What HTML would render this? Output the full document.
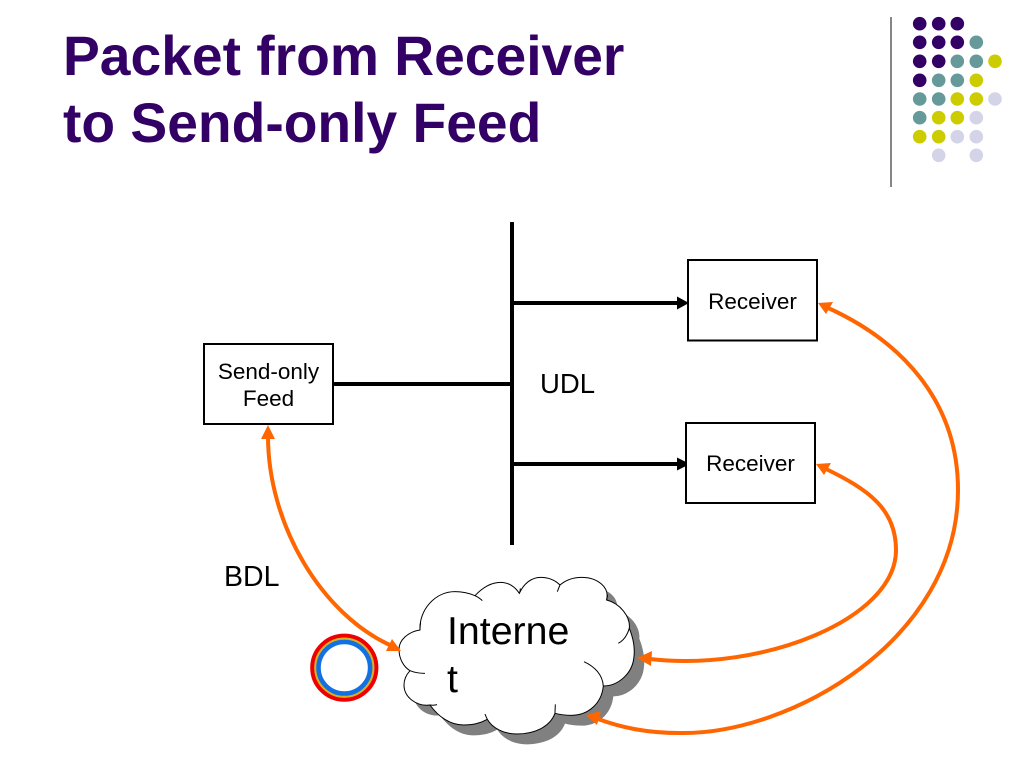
<!DOCTYPE html>
<html><head><meta charset="utf-8"><style>
html,body{margin:0;padding:0;background:#fff;width:1024px;height:768px;overflow:hidden}
svg{display:block}
text{font-family:"Liberation Sans",Arial,sans-serif}
</style></head><body>
<svg width="1024" height="768" viewBox="0 0 1024 768" xmlns="http://www.w3.org/2000/svg">
<defs>
<path id="c" d="M90,332 C70,320 57,295 57,268 C57,240 85,215 120,210 C117,150 165,95 225,95 C248,95 268,100 285,107 C310,80 335,67 362,67 C385,67 405,80 418,100 C432,70 455,52 482,52 C505,52 525,60 540,75 C560,58 580,52 605,52 C650,52 690,80 680,120 C720,130 752,170 748,205 C760,235 765,265 762,290 C758,340 715,378 670,378 C665,430 625,466 575,466 C558,466 540,464 525,460 C510,500 465,522 410,522 C372,522 338,505 322,478 C300,490 280,495 250,495 C210,495 175,470 150,435 C110,440 72,412 72,375 C72,358 78,345 90,332 Z"/>
</defs>
<text x="63" y="75" font-size="55.2" font-weight="bold" fill="#330066">Packet from Receiver</text>
<text x="63" y="142" font-size="55.2" font-weight="bold" fill="#330066">to Send-only Feed</text>
<line x1="891" y1="17" x2="891" y2="187" stroke="#444" stroke-width="1.3"/>
<g fill="#330066">
<circle cx="919.7" cy="23.7" r="6.8"/><circle cx="938.7" cy="23.7" r="6.8"/><circle cx="957.3" cy="23.7" r="6.8"/>
<circle cx="919.7" cy="42.3" r="6.8"/><circle cx="938.7" cy="42.3" r="6.8"/><circle cx="957.3" cy="42.3" r="6.8"/>
<circle cx="919.7" cy="61.3" r="6.8"/><circle cx="938.7" cy="61.3" r="6.8"/>
<circle cx="919.7" cy="80.3" r="6.8"/>
</g>
<g fill="#669999">
<circle cx="976.3" cy="42.3" r="6.8"/>
<circle cx="957.3" cy="61.3" r="6.8"/><circle cx="976.3" cy="61.3" r="6.8"/>
<circle cx="938.7" cy="80.3" r="6.8"/><circle cx="957.3" cy="80.3" r="6.8"/>
<circle cx="919.7" cy="99" r="6.8"/><circle cx="938.7" cy="99" r="6.8"/>
<circle cx="919.7" cy="117.7" r="6.8"/>
</g>
<g fill="#cccc00">
<circle cx="995" cy="61.3" r="6.8"/>
<circle cx="976.3" cy="80.3" r="6.8"/>
<circle cx="957.3" cy="99" r="6.8"/><circle cx="976.3" cy="99" r="6.8"/>
<circle cx="938.7" cy="117.7" r="6.8"/><circle cx="957.3" cy="117.7" r="6.8"/>
<circle cx="919.7" cy="136.7" r="6.8"/><circle cx="938.7" cy="136.7" r="6.8"/>
</g>
<g fill="#d4d4e8">
<circle cx="995" cy="99" r="6.8"/>
<circle cx="976.3" cy="117.7" r="6.8"/>
<circle cx="957.3" cy="136.7" r="6.8"/><circle cx="976.3" cy="136.7" r="6.8"/>
<circle cx="938.7" cy="155.3" r="6.8"/><circle cx="976.3" cy="155.3" r="6.8"/>
</g>
<line x1="512" y1="222" x2="512" y2="545" stroke="#000" stroke-width="4"/>
<line x1="333" y1="384" x2="512" y2="384" stroke="#000" stroke-width="4"/>
<line x1="512" y1="303" x2="680" y2="303" stroke="#000" stroke-width="4"/>
<polygon points="677,296.500 689,303 677,309.500" fill="#000"/>
<line x1="512" y1="464" x2="680" y2="464" stroke="#000" stroke-width="4"/>
<polygon points="677,457.500 690,464 677,470.500" fill="#000"/>
<g fill="#fff" stroke="#000" stroke-width="2">
<rect x="688" y="260" width="129" height="80.500"/>
<rect x="686" y="423" width="129" height="80"/>
<rect x="204" y="344" width="129" height="80"/>
</g>
<g font-size="22.500" text-anchor="middle" fill="#000">
<text x="752.500" y="309">Receiver</text>
<text x="750.500" y="471">Receiver</text>
<text x="268.500" y="379">Send-only</text>
<text x="268.500" y="406">Feed</text>
</g>
<text x="540" y="393" font-size="27.500" fill="#000">UDL</text>
<text x="224" y="586" font-size="28.500" fill="#000">BDL</text>
<g transform="translate(380,560) scale(0.3333)">
<use href="#c" transform="translate(30,31)" fill="#808080"/>
<use href="#c" fill="#fff" stroke="#000" stroke-width="3"/>
<g fill="none" stroke="#000" stroke-width="3">
<path d="M120,210 C120,203 120,197 122,188"/>
<path d="M285,107 C292,110 300,115 307,122"/>
<path d="M418,100 C420,95 421,90 421,85"/>
<path d="M540,75 C537,82 535,88 532,95"/>
<path d="M680,120 C680,115 682,110 683,105"/>
<path d="M748,205 C742,225 730,242 715,250"/>
<path d="M670,378 C668,345 645,320 612,305"/>
<path d="M525,460 C525,450 526,443 526,433"/>
<path d="M322,478 C319,472 317,468 315,462"/>
<path d="M150,435 C158,436 165,436 171,434"/>
<path d="M90,332 C105,338 120,340 135,340"/>
</g>
</g>
<text x="447" y="644" font-size="39.300" fill="#000">Interne</text>
<text x="447" y="692" font-size="39.300" fill="#000">t</text>
<circle cx="344.300" cy="667.700" r="32" fill="none" stroke="#ee0000" stroke-width="4.200"/>
<circle cx="344.300" cy="667.700" r="29" fill="none" stroke="#d8b020" stroke-width="2.200"/>
<circle cx="344.300" cy="667.700" r="25.800" fill="none" stroke="#1470e0" stroke-width="4.600"/>
<g fill="none" stroke="#ff6600" stroke-width="4">
<path d="M826,307 C900,340 958,400 958,490 C958,640 790,735 680,733 C645,733 620,727 598,719"/>
<path d="M824,468 C870,490 896,510 896,550 C896,620 760,672 650,659"/>
<path d="M268,436 C268,525 322,615 392,646"/>
</g>
<g fill="#ff6600">
<polygon points="818,303 833,302 826,314"/>
<polygon points="816,464 831,463 824,475"/>
<polygon points="637,658 652,651 651,666"/>
<polygon points="586,715 601,711 597,725"/>
<polygon points="268,425 275,439 261,439"/>
<polygon points="401,651 386,651 392,639"/>
</g>
</svg>
</body></html>
